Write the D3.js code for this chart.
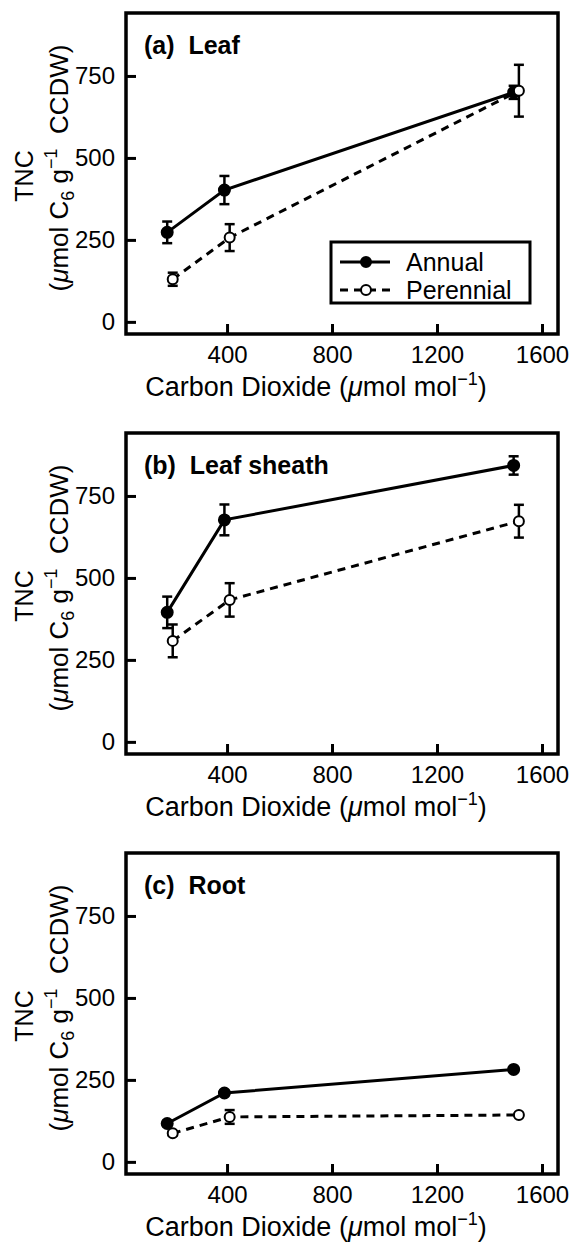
<!DOCTYPE html>
<html>
<head>
<meta charset="utf-8">
<script src="https://cdn.jsdelivr.net/npm/d3@7"></script>
<style>
  body { margin: 0; background: #fff; }
  svg text { font-family: "Liberation Sans", Arial, sans-serif; fill: #000; }
</style>
</head>
<body>
<div id="chart"></div>
<script>
// data
var co2Annual = [172, 390, 1492];
var co2Perennial = [193, 410, 1512];

var panelTitles = ["(a)  Leaf", "(b)  Leaf sheath", "(c)  Root"];

var leafAnnual = [273, 402, 700];
var leafAnnualErr = [33, 43, 20];
var leafPerennial = [130, 257, 705];
var leafPerennialErr = [20, 41, 79];

var sheathAnnual = [395, 677, 843];
var sheathAnnualErr = [48, 47, 28];
var sheathPerennial = [308, 433, 673];
var sheathPerennialErr = [50, 51, 50];

var rootAnnual = [117, 210, 282];
var rootAnnualErr = [8, 8, 6];
var rootPerennial = [87, 137, 143];
var rootPerennialErr = [6, 21, 6];

var xTicks = [400, 800, 1200, 1600];
var yTicks = [0, 250, 500, 750];
var seriesNames = ["Annual", "Perennial"];

var panels = [
  { title: panelTitles[0], annual: leafAnnual, annualErr: leafAnnualErr, perennial: leafPerennial, perennialErr: leafPerennialErr, legend: true },
  { title: panelTitles[1], annual: sheathAnnual, annualErr: sheathAnnualErr, perennial: sheathPerennial, perennialErr: sheathPerennialErr },
  { title: panelTitles[2], annual: rootAnnual, annualErr: rootAnnualErr, perennial: rootPerennial, perennialErr: rootPerennialErr }
];

var W = 579, H = 1243;
var plotL = 126, plotR = 558, plotT = 13, plotB = 334;
var panelStep = 420;

var svg = d3.select("#chart").append("svg")
  .attr("width", W)
  .attr("height", H);

var x = d3.scaleLinear().domain([15, 1661]).range([plotL, plotR]);
var y = d3.scaleLinear().domain([-37, 942]).range([plotB, plotT]);

panels.forEach(function(p, i) {
  var g = svg.append("g").attr("transform", "translate(0," + (i * panelStep) + ")");

  // axes with inward ticks
  var xAxis = g.append("g")
    .attr("transform", "translate(0," + plotB + ")")
    .call(d3.axisBottom(x).tickValues(xTicks).tickSize(-10).tickFormat(d3.format("d")));
  var yAxis = g.append("g")
    .attr("transform", "translate(" + plotL + ",0)")
    .call(d3.axisLeft(y).tickValues(yTicks).tickSize(-10).tickPadding(11).tickFormat(d3.format("d")));

  [xAxis, yAxis].forEach(function(a) {
    a.select(".domain").remove();
    a.selectAll(".tick line").attr("stroke", "#000").attr("stroke-width", 3);
    a.selectAll(".tick text")
      .style("font-family", "'Liberation Sans', Arial, sans-serif")
      .style("font-size", "24px")
      .attr("fill", "#000");
  });
  xAxis.selectAll(".tick text").attr("dy", "0.71em").attr("y", 12);

  // frame
  g.append("rect")
    .attr("x", plotL).attr("y", plotT)
    .attr("width", plotR - plotL).attr("height", plotB - plotT)
    .attr("fill", "none").attr("stroke", "#000").attr("stroke-width", 3.5);

  // panel title
  g.append("text")
    .attr("x", 144).attr("y", 54)
    .style("font-size", "25px").style("font-weight", "bold")
    .attr("xml:space", "preserve")
    .text(p.title);

  // x label
  var xl = g.append("text")
    .attr("x", 316).attr("y", 396)
    .attr("text-anchor", "middle")
    .style("font-size", "27px");
  xl.append("tspan").text("Carbon Dioxide (");
  xl.append("tspan").style("font-style", "italic").text("\u03bc");
  xl.append("tspan").text("mol mol");
  xl.append("tspan").attr("dy", -11).style("font-size", "18px").text("\u22121");
  xl.append("tspan").attr("dy", 11).text(")");

  // y label, two rotated lines
  g.append("text")
    .attr("transform", "translate(33," + 176 + ") rotate(-90)")
    .attr("text-anchor", "middle")
    .style("font-size", "25px")
    .text("TNC");
  var yl = g.append("text")
    .attr("transform", "translate(68," + 168 + ") rotate(-90)")
    .attr("text-anchor", "middle")
    .attr("xml:space", "preserve")
    .style("font-size", "26px");
  yl.append("tspan").text("(");
  yl.append("tspan").style("font-style", "italic").text("\u03bc");
  yl.append("tspan").text("mol C");
  yl.append("tspan").attr("dy", 6).style("font-size", "18px").text("6");
  yl.append("tspan").attr("dy", -6).text(" g");
  yl.append("tspan").attr("dy", -11).style("font-size", "18px").text("\u22121");
  yl.append("tspan").attr("dy", 11).text("  CCDW)");

  var series = [
    { xs: co2Annual, ys: p.annual, err: p.annualErr, filled: true, dash: null },
    { xs: co2Perennial, ys: p.perennial, err: p.perennialErr, filled: false, dash: "8,6" }
  ];

  series.forEach(function(s) {
    var pts = s.ys.map(function(v, k) { return { x: s.xs[k], y: v, e: s.err[k] }; });

    g.append("path")
      .datum(pts)
      .attr("fill", "none")
      .attr("stroke", "#000")
      .attr("stroke-width", 3)
      .attr("stroke-dasharray", s.dash)
      .attr("d", d3.line().x(function(d) { return x(d.x); }).y(function(d) { return y(d.y); }));

    var eb = g.append("g").attr("stroke", "#000").attr("stroke-width", 2.5);
    pts.forEach(function(d) {
      eb.append("line").attr("x1", x(d.x)).attr("x2", x(d.x)).attr("y1", y(d.y - d.e)).attr("y2", y(d.y + d.e));
      eb.append("line").attr("x1", x(d.x) - 5).attr("x2", x(d.x) + 5).attr("y1", y(d.y - d.e)).attr("y2", y(d.y - d.e));
      eb.append("line").attr("x1", x(d.x) - 5).attr("x2", x(d.x) + 5).attr("y1", y(d.y + d.e)).attr("y2", y(d.y + d.e));
    });

    g.selectAll(null)
      .data(pts)
      .enter().append("circle")
      .attr("cx", function(d) { return x(d.x); })
      .attr("cy", function(d) { return y(d.y); })
      .attr("r", s.filled ? 5.5 : 5)
      .attr("fill", s.filled ? "#000" : "#fff")
      .attr("stroke", "#000")
      .attr("stroke-width", 2);
  });

  // legend
  if (p.legend) {
    var lg = g.append("g");
    lg.append("rect")
      .attr("x", 331).attr("y", 242).attr("width", 199).attr("height", 61)
      .attr("fill", "#fff").attr("stroke", "#000").attr("stroke-width", 3);
    seriesNames.forEach(function(name, k) {
      var ly = k === 0 ? 262 : 290;
      lg.append("line")
        .attr("x1", 340).attr("x2", 390).attr("y1", ly).attr("y2", ly)
        .attr("stroke", "#000").attr("stroke-width", 3)
        .attr("stroke-dasharray", k === 0 ? null : "8,6");
      lg.append("circle")
        .attr("cx", 366).attr("cy", ly).attr("r", 5)
        .attr("fill", k === 0 ? "#000" : "#fff")
        .attr("stroke", "#000").attr("stroke-width", 2);
      lg.append("text")
        .attr("x", 406).attr("y", ly + 9)
        .style("font-size", "25px")
        .text(name);
    });
  }
});
</script>
</body>
</html>
